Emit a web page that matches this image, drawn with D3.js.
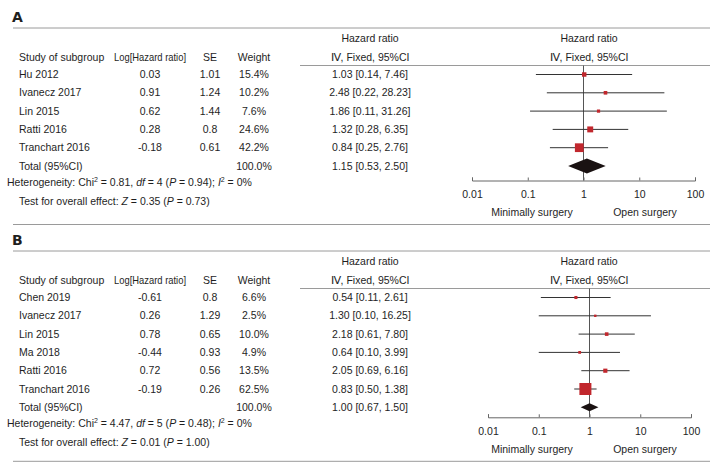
<!DOCTYPE html>
<html>
<head>
<meta charset="utf-8">
<script src="https://cdn.jsdelivr.net/npm/d3@7"></script>
<style>
  body { margin: 0; background: #fff; }
</style>
</head>
<body>
<div id="chart"></div>
<script>
// Panel A data
const studiesA = ["Hu 2012", "Ivanecz 2017", "Lin 2015", "Ratti 2016", "Tranchart 2016"];
const logHrA = [0.03, 0.91, 0.62, 0.28, -0.18];
const seA = [1.01, 1.24, 1.44, 0.8, 0.61];
const weightA = [15.4, 10.2, 7.6, 24.6, 42.2];
const hrA = [1.03, 2.48, 1.86, 1.32, 0.84];
const lowA = [0.14, 0.22, 0.11, 0.28, 0.25];
const highA = [7.46, 28.23, 31.26, 6.35, 2.76];
const totalA = [1.15, 0.53, 2.50];      // HR, low, high
const hetA = [0.81, 4, 0.94, 0];        // Chi2, df, P, I2
const testA = [0.35, 0.73];             // Z, P

// Panel B data
const studiesB = ["Chen 2019", "Ivanecz 2017", "Lin 2015", "Ma 2018", "Ratti 2016", "Tranchart 2016"];
const logHrB = [-0.61, 0.26, 0.78, -0.44, 0.72, -0.19];
const seB = [0.8, 1.29, 0.65, 0.93, 0.56, 0.26];
const weightB = [6.6, 2.5, 10.0, 4.9, 13.5, 62.5];
const hrB = [0.54, 1.30, 2.18, 0.64, 2.05, 0.83];
const lowB = [0.11, 0.10, 0.61, 0.10, 0.69, 0.50];
const highB = [2.61, 16.25, 7.80, 3.99, 6.16, 1.38];
const totalB = [1.00, 0.67, 1.50];
const hetB = [4.47, 5, 0.48, 0];
const testB = [0.01, 1.00];

const axisTicks = [0.01, 0.1, 1, 10, 100];

const width = 720;
const height = 470;
const textColor = "#1e1e1e";
const ruleColor = "#9a9a9a";
const markColor = "#c1272d";
const fontSize = 10.5;

const svg = d3.select("#chart").append("svg")
    .attr("width", width)
    .attr("height", height)
    .attr("viewBox", [0, 0, width, height])
    .style("font", `${fontSize}px 'Liberation Sans', Arial, sans-serif`);

drawPanel({
    label: "A", top: 28,
    studies: studiesA, logHr: logHrA, se: seA, weight: weightA,
    hr: hrA, low: lowA, high: highA, total: totalA, het: hetA, test: testA,
    xRange: [472, 695], axisGap: 14.5, diamondH: 7.5
});

drawPanel({
    label: "B", top: 251,
    studies: studiesB, logHr: logHrB, se: seB, weight: weightB,
    hr: hrB, low: lowB, high: highB, total: totalB, het: hetB, test: testB,
    xRange: [488, 691], axisGap: 10, diamondH: 4
});

function drawPanel(p) {
    const g = svg.append("g").attr("fill", textColor);
    const n = p.studies.length;
    const rowStart = p.top + 46.5;
    const rowStep = 18.3;

    const y = d3.scaleLinear()
        .domain([0, n])
        .range([rowStart, rowStart + n * rowStep]);

    const x = d3.scaleLog()
        .domain([0.01, 100])
        .range(p.xRange);

    const size = d3.scaleLinear()
        .domain([0, 62.5])
        .range([2, 12]);

    const fmt2 = d3.format(".2f");
    const fmtW = d => d3.format(".1f")(d) + "%";

    const totalY = y(n);
    const axisY = totalY + p.axisGap;

    // panel label
    g.append("text")
        .attr("x", 12)
        .attr("y", p.top - 11)
        .attr("dy", "0.35em")
        .attr("font-size", 14)
        .attr("font-weight", "bold")
        .attr("font-family", "'DejaVu Sans', sans-serif")
        .text(p.label);

    // rules
    g.append("line")
        .attr("x1", 13).attr("x2", 710)
        .attr("y1", p.top).attr("y2", p.top)
        .attr("stroke", ruleColor);

    g.append("line")
        .attr("x1", 300).attr("x2", 710)
        .attr("y1", p.top + 37.5).attr("y2", p.top + 37.5)
        .attr("stroke", ruleColor);

    g.append("line")
        .attr("x1", 13).attr("x2", 710)
        .attr("y1", axisY + 44).attr("y2", axisY + 44)
        .attr("stroke", ruleColor);

    // headers
    const h1 = p.top + 10.5;
    const h2 = p.top + 29.5;
    [370, 589].forEach(cx => {
        g.append("text").attr("x", cx).attr("y", h1).attr("dy", "0.35em")
            .attr("text-anchor", "middle").text("Hazard ratio");
        g.append("text").attr("x", cx).attr("y", h2).attr("dy", "0.35em")
            .attr("text-anchor", "middle").text("Ⅳ, Fixed, 95%CI");
    });
    g.append("text").attr("x", 19).attr("y", h2).attr("dy", "0.35em").text("Study of subgroup");
    g.append("text").attr("x", 150).attr("y", h2).attr("dy", "0.35em")
        .attr("text-anchor", "middle")
        .attr("textLength", 72)
        .attr("lengthAdjust", "spacingAndGlyphs")
        .text("Log[Hazard ratio]");
    g.append("text").attr("x", 210).attr("y", h2).attr("dy", "0.35em")
        .attr("text-anchor", "middle").text("SE");
    g.append("text").attr("x", 254).attr("y", h2).attr("dy", "0.35em")
        .attr("text-anchor", "middle").text("Weight");

    // table rows
    const rows = g.append("g")
        .selectAll("g")
        .data(p.studies)
        .join("g")
        .attr("transform", (d, i) => `translate(0,${y(i)})`);

    rows.append("text").attr("x", 19).attr("dy", "0.35em").text(d => d);
    rows.append("text").attr("x", 150).attr("dy", "0.35em").attr("text-anchor", "middle")
        .text((d, i) => String(p.logHr[i]));
    rows.append("text").attr("x", 210).attr("dy", "0.35em").attr("text-anchor", "middle")
        .text((d, i) => String(p.se[i]));
    rows.append("text").attr("x", 254).attr("dy", "0.35em").attr("text-anchor", "middle")
        .text((d, i) => fmtW(p.weight[i]));
    rows.append("text").attr("x", 370).attr("dy", "0.35em").attr("text-anchor", "middle")
        .text((d, i) => `${fmt2(p.hr[i])} [${fmt2(p.low[i])}, ${fmt2(p.high[i])}]`);

    // total row
    g.append("text").attr("x", 19).attr("y", totalY).attr("dy", "0.35em").text("Total (95%CI)");
    g.append("text").attr("x", 254).attr("y", totalY).attr("dy", "0.35em")
        .attr("text-anchor", "middle").text(fmtW(d3.sum(p.weight)));
    g.append("text").attr("x", 370).attr("y", totalY).attr("dy", "0.35em")
        .attr("text-anchor", "middle")
        .text(`${fmt2(p.total[0])} [${fmt2(p.total[1])}, ${fmt2(p.total[2])}]`);

    // heterogeneity line
    const het = g.append("text")
        .attr("x", 7)
        .attr("y", totalY + 16.5)
        .attr("dy", "0.35em");
    het.append("tspan").text("Heterogeneity: Chi");
    het.append("tspan").attr("font-size", 7).attr("dy", -4).text("2");
    het.append("tspan").attr("dy", 4).text(` = ${fmt2(p.het[0])}, `);
    het.append("tspan").attr("font-style", "italic").text("df");
    het.append("tspan").text(` = ${p.het[1]} (`);
    het.append("tspan").attr("font-style", "italic").text("P");
    het.append("tspan").text(` = ${fmt2(p.het[2])}); `);
    het.append("tspan").attr("font-style", "italic").text("I");
    het.append("tspan").attr("font-size", 7).attr("dy", -4).text("2");
    het.append("tspan").attr("dy", 4).text(` = ${p.het[3]}%`);

    const test = g.append("text")
        .attr("x", 19)
        .attr("y", totalY + 35)
        .attr("dy", "0.35em");
    test.append("tspan").text("Test for overall effect: ");
    test.append("tspan").attr("font-style", "italic").text("Z");
    test.append("tspan").text(` = ${fmt2(p.test[0])} (`);
    test.append("tspan").attr("font-style", "italic").text("P");
    test.append("tspan").text(` = ${fmt2(p.test[1])})`);

    // forest plot: reference line at 1
    g.append("line")
        .attr("x1", x(1)).attr("x2", x(1))
        .attr("y1", p.top + 37.5).attr("y2", axisY)
        .attr("stroke", "#555");

    // confidence intervals
    g.append("g")
        .attr("stroke", "#333")
        .selectAll("line")
        .data(p.studies)
        .join("line")
        .attr("x1", (d, i) => x(p.low[i]))
        .attr("x2", (d, i) => x(p.high[i]))
        .attr("y1", (d, i) => y(i))
        .attr("y2", (d, i) => y(i));

    // weighted squares
    g.append("g")
        .attr("fill", markColor)
        .selectAll("rect")
        .data(p.studies)
        .join("rect")
        .attr("x", (d, i) => x(p.hr[i]) - size(p.weight[i]) / 2)
        .attr("y", (d, i) => y(i) - size(p.weight[i]) / 2)
        .attr("width", (d, i) => size(p.weight[i]))
        .attr("height", (d, i) => size(p.weight[i]));

    // pooled diamond
    const dh = p.diamondH;
    g.append("path")
        .attr("fill", "#1a1212")
        .attr("d", `M${x(p.total[1])},${totalY}L${x(p.total[0])},${totalY - dh}L${x(p.total[2])},${totalY}L${x(p.total[0])},${totalY + dh}Z`);

    // axis
    g.append("g")
        .attr("transform", `translate(0,${axisY})`)
        .call(d3.axisBottom(x)
            .tickValues(axisTicks)
            .tickFormat(d => String(d))
            .tickSizeInner(-3)
            .tickSizeOuter(-3)
            .tickPadding(10))
        .call(a => a.selectAll("path, line").attr("stroke", "#666"))
        .call(a => a.selectAll("text")
            .attr("fill", textColor)
            .attr("font-size", fontSize)
            .attr("font-family", "'Liberation Sans', Arial, sans-serif"));

    g.append("text").attr("x", 532).attr("y", axisY + 32).attr("dy", "0.35em")
        .attr("text-anchor", "middle").text("Minimally surgery");
    g.append("text").attr("x", 645).attr("y", axisY + 32).attr("dy", "0.35em")
        .attr("text-anchor", "middle").text("Open surgery");
}
</script>
</body>
</html>
